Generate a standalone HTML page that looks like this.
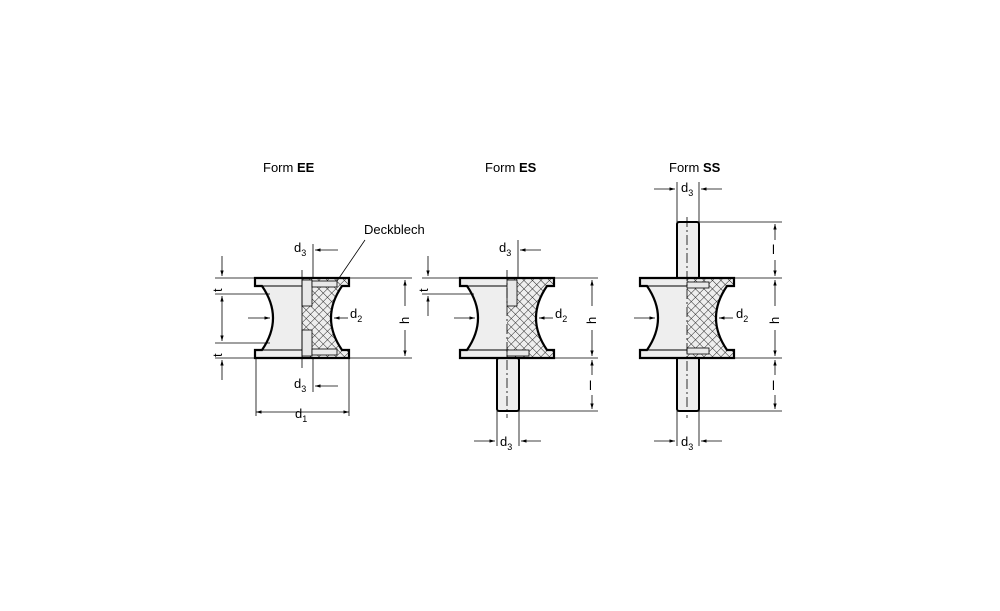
<!DOCTYPE html>
<html><head><meta charset="utf-8"><style>
html,body{margin:0;padding:0;background:#fff;width:1000px;height:611px;overflow:hidden}
svg{display:block}
text{font-family:"Liberation Sans",Arial,sans-serif;font-size:13px;fill:#000}
.s{font-size:9px}
</style></head><body>
<svg width="1000" height="611" viewBox="0 0 1000 611" xmlns="http://www.w3.org/2000/svg">
<defs>
<pattern id="h" width="6" height="6" patternUnits="userSpaceOnUse" patternTransform="rotate(45)">
<rect width="6" height="6" fill="#eeeeee"/><line x1="0" y1="0" x2="0" y2="6" stroke="#222" stroke-width="1"/><line x1="0" y1="0" x2="6" y2="0" stroke="#222" stroke-width="1"/></pattern>
<marker id="a" viewBox="0 0 10 10" refX="10" refY="5" markerWidth="7" markerHeight="7" orient="auto-start-reverse"><path d="M0,2 L10,5 L0,8 Z" fill="#000"/></marker>
<g id="body">
<clipPath id="cl"><rect x="-60" y="270" width="60" height="100"/></clipPath>
<clipPath id="cr"><rect x="0" y="270" width="60" height="100"/></clipPath>
<path clip-path="url(#cl)" d="M-47,278 H47 V286 H40 Q18,318 40,350 H47 V358 H-47 V350 H-40 Q-18,318 -40,286 H-47 Z" fill="#eeeeee"/>
<path clip-path="url(#cr)" d="M-47,278 H47 V286 H40 Q18,318 40,350 H47 V358 H-47 V350 H-40 Q-18,318 -40,286 H-47 Z" fill="url(#h)"/>
<line x1="-40" y1="286" x2="0" y2="286" stroke="#000" stroke-width="1"/>
<line x1="-40" y1="350" x2="0" y2="350" stroke="#000" stroke-width="1"/>
<path d="M-47,278 H47 V286 H40 Q18,318 40,350 H47 V358 H-47 V350 H-40 Q-18,318 -40,286 H-47 Z" fill="none" stroke="#000" stroke-width="2.2"/>
</g>
</defs>

<!-- Form EE -->
<text x="263" y="172">Form <tspan font-weight="bold">EE</tspan></text>
<g transform="translate(302,0)"><use href="#body"/>
<rect x="0" y="280" width="10" height="26" fill="#e8e8e8" stroke="#000" stroke-width="0.8"/>
<rect x="0" y="330" width="10" height="26" fill="#e8e8e8" stroke="#000" stroke-width="0.8"/>
<rect x="10" y="281" width="25" height="6" fill="#e8e8e8" stroke="#000" stroke-width="0.8"/>
<rect x="10" y="349" width="25" height="6" fill="#e8e8e8" stroke="#000" stroke-width="0.8"/>
<line x1="0" y1="270" x2="0" y2="368" stroke="#000" stroke-width="0.8"/>
</g>
<g stroke="#000" stroke-width="0.8" fill="none">
<line x1="313" y1="244" x2="313" y2="278"/><line x1="313" y1="358" x2="313" y2="392"/>
<line x1="338" y1="250" x2="315" y2="250" marker-end="url(#a)"/>
<line x1="338" y1="386" x2="315" y2="386" marker-end="url(#a)"/>
<line x1="256" y1="358" x2="256" y2="416"/><line x1="349" y1="358" x2="349" y2="416"/>
<line x1="256" y1="412" x2="349" y2="412" marker-start="url(#a)" marker-end="url(#a)"/>
<line x1="349" y1="278" x2="412" y2="278"/><line x1="349" y1="358" x2="412" y2="358"/>
<line x1="405" y1="280" x2="405" y2="306" marker-start="url(#a)"/><line x1="405" y1="330" x2="405" y2="356" marker-end="url(#a)"/>
<line x1="348" y1="318" x2="334" y2="318" marker-end="url(#a)"/>
<line x1="248" y1="318" x2="270" y2="318" marker-end="url(#a)"/>
<line x1="215" y1="278" x2="256" y2="278"/><line x1="215" y1="294" x2="270" y2="294"/>
<line x1="215" y1="343" x2="270" y2="343"/><line x1="215" y1="358" x2="256" y2="358"/>
<line x1="222" y1="256" x2="222" y2="276" marker-end="url(#a)"/>
<line x1="222" y1="296" x2="222" y2="341" marker-start="url(#a)" marker-end="url(#a)"/>
<line x1="222" y1="380" x2="222" y2="360" marker-end="url(#a)"/>
<line x1="337" y1="281" x2="365" y2="240"/>
</g>
<text x="212" y="290" transform="rotate(-90 218 286)" >t</text>
<text x="212" y="355" transform="rotate(-90 218 351)">t</text>
<text x="294" y="252">d<tspan class="s" dy="4">3</tspan></text>
<text x="294" y="388">d<tspan class="s" dy="4">3</tspan></text>
<text x="295" y="418">d<tspan class="s" dy="4">1</tspan></text>
<text x="350" y="318">d<tspan class="s" dy="4">2</tspan></text>
<text x="398" y="323" transform="rotate(-90 404 318)">h</text>
<text x="364" y="234">Deckblech</text>

<!-- Form ES -->
<text x="485" y="172">Form <tspan font-weight="bold">ES</tspan></text>
<rect x="497" y="358" width="22" height="53" fill="#eeeeee" stroke="#000" stroke-width="2" rx="2"/>
<g transform="translate(507,0)"><use href="#body"/>
<rect x="0" y="280" width="10" height="26" fill="#e8e8e8" stroke="#000" stroke-width="0.8"/>
<rect x="0" y="350" width="22" height="6" fill="#e8e8e8" stroke="#000" stroke-width="0.8"/>
<line x1="0" y1="270" x2="0" y2="418" stroke="#000" stroke-width="0.8" stroke-dasharray="10,3,2,3"/>
</g>
<g stroke="#000" stroke-width="0.8" fill="none">
<line x1="518" y1="240" x2="518" y2="278"/>
<line x1="541" y1="250" x2="520" y2="250" marker-end="url(#a)"/>
<line x1="497" y1="411" x2="497" y2="446"/><line x1="519" y1="411" x2="519" y2="446"/>
<line x1="474" y1="441" x2="495" y2="441" marker-end="url(#a)"/>
<line x1="541" y1="441" x2="521" y2="441" marker-end="url(#a)"/>
<line x1="554" y1="278" x2="598" y2="278"/><line x1="554" y1="358" x2="598" y2="358"/><line x1="519" y1="411" x2="598" y2="411"/>
<line x1="592" y1="280" x2="592" y2="306" marker-start="url(#a)"/><line x1="592" y1="330" x2="592" y2="356" marker-end="url(#a)"/>
<line x1="592" y1="360" x2="592" y2="375" marker-start="url(#a)"/><line x1="592" y1="395" x2="592" y2="409" marker-end="url(#a)"/>
<line x1="553" y1="318" x2="539" y2="318" marker-end="url(#a)"/>
<line x1="454" y1="318" x2="475" y2="318" marker-end="url(#a)"/>
<line x1="422" y1="278" x2="460" y2="278"/><line x1="422" y1="294" x2="474" y2="294"/>
<line x1="428" y1="256" x2="428" y2="276" marker-end="url(#a)"/>
<line x1="428" y1="316" x2="428" y2="296" marker-end="url(#a)"/>
</g>
<text x="418" y="290" transform="rotate(-90 424 286)">t</text>
<text x="499" y="252">d<tspan class="s" dy="4">3</tspan></text>
<text x="500" y="446">d<tspan class="s" dy="4">3</tspan></text>
<text x="555" y="318">d<tspan class="s" dy="4">2</tspan></text>
<text x="585" y="323" transform="rotate(-90 591 318)">h</text>
<text x="589" y="390">l</text>

<!-- Form SS -->
<text x="669" y="172">Form <tspan font-weight="bold">SS</tspan></text>
<rect x="677" y="222" width="22" height="189" fill="#eeeeee" stroke="#000" stroke-width="2" rx="2"/>
<g transform="translate(687,0)"><use href="#body"/>
<rect x="0" y="282" width="22" height="6" fill="#e8e8e8" stroke="#000" stroke-width="0.8"/>
<rect x="0" y="348" width="22" height="6" fill="#e8e8e8" stroke="#000" stroke-width="0.8"/>
<line x1="0" y1="217" x2="0" y2="418" stroke="#000" stroke-width="0.8" stroke-dasharray="10,3,2,3"/>
</g>
<g stroke="#000" stroke-width="0.8" fill="none">
<line x1="677" y1="182" x2="677" y2="222"/><line x1="699" y1="182" x2="699" y2="222"/>
<line x1="654" y1="189" x2="675" y2="189" marker-end="url(#a)"/>
<line x1="722" y1="189" x2="701" y2="189" marker-end="url(#a)"/>
<line x1="677" y1="411" x2="677" y2="446"/><line x1="699" y1="411" x2="699" y2="446"/>
<line x1="654" y1="441" x2="675" y2="441" marker-end="url(#a)"/>
<line x1="722" y1="441" x2="701" y2="441" marker-end="url(#a)"/>
<line x1="699" y1="222" x2="782" y2="222"/><line x1="734" y1="278" x2="782" y2="278"/><line x1="734" y1="358" x2="782" y2="358"/><line x1="699" y1="411" x2="782" y2="411"/>
<line x1="775" y1="224" x2="775" y2="240" marker-start="url(#a)"/><line x1="775" y1="260" x2="775" y2="276" marker-end="url(#a)"/>
<line x1="775" y1="280" x2="775" y2="306" marker-start="url(#a)"/><line x1="775" y1="330" x2="775" y2="356" marker-end="url(#a)"/>
<line x1="775" y1="360" x2="775" y2="375" marker-start="url(#a)"/><line x1="775" y1="395" x2="775" y2="409" marker-end="url(#a)"/>
<line x1="733" y1="318" x2="719" y2="318" marker-end="url(#a)"/>
<line x1="634" y1="318" x2="655" y2="318" marker-end="url(#a)"/>
</g>
<text x="681" y="192">d<tspan class="s" dy="4">3</tspan></text>
<text x="681" y="446">d<tspan class="s" dy="4">3</tspan></text>
<text x="736" y="318">d<tspan class="s" dy="4">2</tspan></text>
<text x="768" y="323" transform="rotate(-90 774 318)">h</text>
<text x="772" y="254">l</text>
<text x="772" y="390">l</text>
</svg>
</body></html>
